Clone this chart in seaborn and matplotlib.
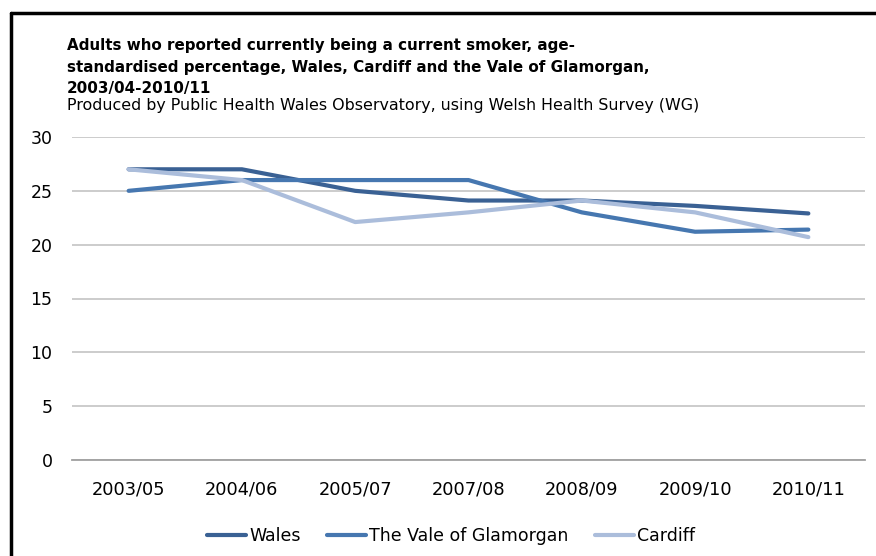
import pandas as pd
import matplotlib.pyplot as plt
import seaborn as sns
from matplotlib.lines import Line2D

# --- dados ---
anos = ['2003/05', '2004/06', '2005/07', '2007/08', '2008/09', '2009/10', '2010/11']
wales = [27.0, 27.0, 25.0, 24.1, 24.1, 23.6, 22.9]
vale = [25.0, 26.0, 26.0, 26.0, 23.0, 21.2, 21.4]
cardiff = [27.0, 26.0, 22.1, 23.0, 24.1, 23.0, 20.7]

series = ['Wales', 'The Vale of Glamorgan', 'Cardiff']
cores = ['#3A6194', '#4677B0', '#ABBDDB']

titulo = ['Adults who reported currently being a current smoker, age-',
          'standardised percentage, Wales, Cardiff and the Vale of Glamorgan,',
          '2003/04-2010/11']
subtitulo = 'Produced by Public Health Wales Observatory, using Welsh Health Survey (WG)'

df = pd.DataFrame({
    'ano': anos * 3,
    'pos': list(range(len(anos))) * 3,
    'valor': wales + vale + cardiff,
    'serie': [series[0]] * 7 + [series[1]] * 7 + [series[2]] * 7,
})

sns.set_style('white')
plt.rcParams['font.family'] = ['DejaVu Sans']
plt.rcParams['text.color'] = 'black'

fig = plt.figure(figsize=(8.76, 5.56), dpi=100)
W, H = 876, 556
ax = fig.add_axes([72 / W, 1 - 460 / H, (865 - 72) / W, (460 - 137) / H])

sns.lineplot(data=df, x='pos', y='valor', hue='serie', hue_order=series,
             palette=cores, linewidth=3.0, ax=ax, legend=False, zorder=3)

ax.set_xlim(-0.5, len(anos) - 0.5)
ax.set_ylim(0, 30)
ax.set_yticks(range(0, 31, 5))
ax.set_xticks(range(len(anos)))
ax.set_xticklabels(anos)
ax.set_xlabel('')
ax.set_ylabel('')
ax.grid(axis='y', color='#C8C8C8', linewidth=1.3)
ax.set_axisbelow(True)
for s in ['top', 'right', 'left']:
    ax.spines[s].set_visible(False)
ax.spines['bottom'].set_color('#A0A0A0')
ax.spines['bottom'].set_linewidth(1.3)
ax.tick_params(axis='y', length=0, pad=14, labelsize=12.5, colors='black')
ax.tick_params(axis='x', length=0, pad=15, labelsize=12.8, colors='black')

# legenda
handles = [Line2D([0], [0], color=c, linewidth=3.0) for c in cores]
fig.legend(handles, series, loc='center', bbox_to_anchor=(0.515, 1 - 536 / H),
           ncol=3, frameon=False, fontsize=12.5, handlelength=2.25,
           handletextpad=0.2, columnspacing=1.5)

# titulo (uma linha por vez)
for linha, base in zip(titulo, [50, 72, 93]):
    fig.text(67 / W, 1 - base / H, linha, fontsize=10.9, fontweight='bold',
             va='baseline', ha='left')
fig.text(67 / W, 1 - 110 / H, subtitulo, fontsize=11.4, va='baseline', ha='left')

# borda
fig.add_artist(Line2D([11 / W, 11 / W], [0, 1 - 13 / H], color='black', linewidth=2.5))
fig.add_artist(Line2D([11 / W, 1], [1 - 13 / H, 1 - 13 / H], color='black', linewidth=2.5))

fig.savefig('out.png', dpi=100)
